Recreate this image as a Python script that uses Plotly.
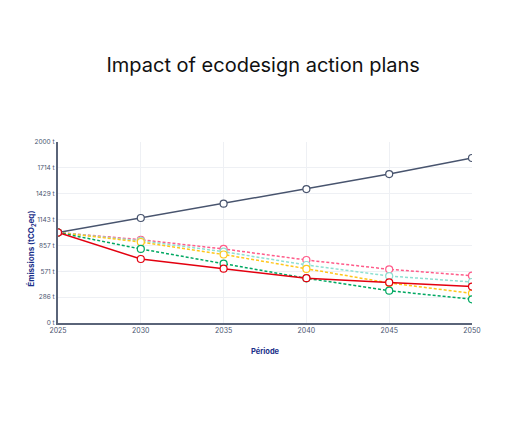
import plotly.graph_objects as go

years = [2025, 2030, 2035, 2040, 2045, 2050]

baseline = [1000, 1160, 1318, 1480, 1646, 1823]
combined = [1000, 707, 600, 495, 448, 402]
plan_a = [1000, 920, 818, 696, 593, 523]
plan_b = [1000, 909, 788, 641, 519, 453]
plan_c = [1000, 895, 757, 597, 442, 328]
plan_d = [1000, 818, 655, 494, 357, 262]

y_ticks = [0, 286, 571, 857, 1143, 1429, 1714, 2000]
y_labels = [f"{v} t" for v in y_ticks]

series = [
    ("Plan A", plan_a, "#ff5c8a", "3px,2px"),
    ("Plan B", plan_b, "#8ee0d2", "3px,2px"),
    ("Plan C", plan_c, "#ffc61a", "3px,2px"),
    ("Plan D", plan_d, "#00a862", "3px,2px"),
    ("Baseline", baseline, "#48546e", "solid"),
    ("Combined", combined, "#e3000f", "solid"),
]

fig = go.Figure()
for name, values, color, dash in series:
    fig.add_trace(
        go.Scatter(
            x=years,
            y=values,
            mode="lines+markers",
            name=name,
            line={"color": color, "width": 1.5, "dash": dash},
            marker={"size": 7, "color": "white", "line": {"color": color, "width": 1.2}},
        )
    )

# the page body adds 8px on the top/left, so the margins are shifted back by that
fig.update_layout(
    width=526,
    height=426,
    template="plotly_white",
    showlegend=False,
    font={"family": "Inter", "color": "#111111"},
    title={"text": "Impact of ecodesign action plans", "x": 0.485, "xanchor": "center",
           "y": 1 - 57 / 426, "yanchor": "middle",
           "font": {"size": 20, "color": "#111111", "family": "Inter"}},
    margin={"l": 50, "r": 62, "t": 134, "b": 111},
    plot_bgcolor="white",
    paper_bgcolor="white",
)

# y title sits a bit below the middle of the axis in the reference, so place it by hand
fig.add_annotation(
    text="<b>Émissions (tCO<sub>2</sub>eq)</b>",
    xref="paper", yref="paper",
    x=-0.063, y=0.41,
    xanchor="center", yanchor="middle",
    textangle=-90,
    showarrow=False,
    font={"size": 8, "color": "#1a2f8a"},
)

fig.update_xaxes(
    range=[2025, 2050],
    tickvals=years,
    ticktext=[str(y) for y in years],
    tickfont={"size": 7, "color": "#4a5570"},
    showgrid=True,
    gridcolor="#eef0f4",
    showline=True,
    linecolor="#5a6479",
    linewidth=2,
    zeroline=False,
    title={"text": "<b>Période</b>", "font": {"size": 7.5, "color": "#1a2f8a"}, "standoff": 14},
)
fig.update_yaxes(
    range=[0, 2000],
    tickvals=y_ticks,
    ticktext=y_labels,
    tickfont={"size": 6.5, "color": "#4a5570"},
    showgrid=True,
    gridcolor="#eef0f4",
    showline=True,
    linecolor="#5a6479",
    linewidth=2,
    zeroline=False,
)

fig.write_html("out.html")
